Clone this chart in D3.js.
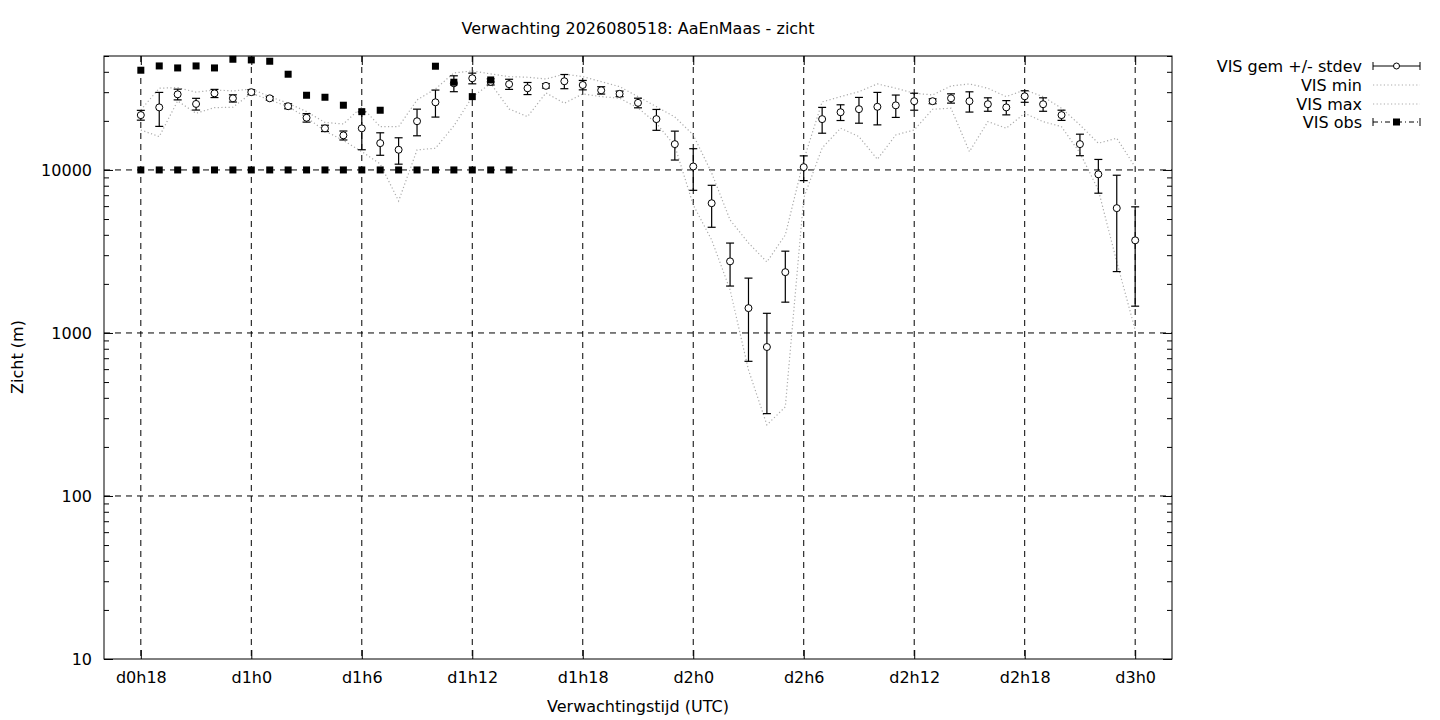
<!DOCTYPE html>
<html>
<head>
<meta charset="utf-8">
<script src="https://cdn.jsdelivr.net/npm/d3@7"></script>
<style>
  html, body { margin: 0; padding: 0; background: #fff; }
  svg { display: block; }
  text { font-family: "DejaVu Sans", sans-serif; font-size: 16px; fill: #000; }
</style>
</head>
<body>
<svg id="chart" width="1440" height="720"></svg>
<script>
// ---- data ----
const title = "Verwachting 2026080518: AaEnMaas - zicht";
const xLabel = "Verwachtingstijd (UTC)";
const yLabel = "Zicht (m)";

// forecast hours (relative to d0h0)
const hours = d3.range(18, 73);

const meanVis = [21700, 24200, 29100, 25400, 29500, 27500, 30000, 27500, 24600, 20900,
  18000, 16300, 18000, 14600, 13300, 19900, 26000, 34000, 36500, 34700,
  33600, 31700, 32800, 35000, 33200, 30800, 29300, 25800, 20500, 14400,
  10500, 6250, 2750, 1420, 820, 2360, 10400, 20500, 22600, 23600,
  24400, 24900, 26400, 26400, 27500, 26400, 25300, 24200, 28300, 25300,
  21700, 14400, 9400, 5830, 3700];

const stdevVis = [1500, 5700, 2200, 2100, 1700, 1400, 1050, 700, 870, 1250,
  800, 1030, 4700, 2300, 2450, 3700, 4900, 3800, 2750, 1500,
  2400, 2700, 1000, 3500, 2200, 1600, 1150, 1750, 3000, 2900,
  3000, 1800, 810, 750, 500, 815, 1800, 3700, 2500, 4250,
  5500, 3900, 3150, 900, 1800, 3750, 2400, 2430, 2300, 2400,
  1560, 2170, 2200, 3450, 2240];

const minVis = [17590, 16010, 26510, 22280, 24110, 24250, 29550, 26880, 24450, 20990,
  17350, 15170, 12950, 10880, 6450, 13270, 13590, 18620, 28040, 33930,
  23670, 21230, 29680, 25660, 29260, 28170, 27540, 24010, 19340, 14040,
  6100, 3720, 1840, 593, 273, 352, 6730, 13640, 18030, 16010,
  11630, 16400, 17590, 23570, 23910, 12950, 19790, 18030, 22280, 19790,
  18430, 12710, 7540, 2730, 1043];

const maxVis = [23340, 31720, 31990, 29980, 30960, 30520, 31400, 28170, 25660, 22790,
  19560, 19150, 24350, 18430, 18430, 26880, 31400, 39370, 40500, 38820,
  37360, 37040, 36160, 38660, 37360, 34810, 32430, 28170, 24450, 21140,
  16400, 9585, 4935, 3566, 2727, 3993, 11520, 26140, 28170, 30220,
  33700, 31720, 29550, 28850, 32760, 33700, 31720, 28170, 30960, 28170,
  23910, 18890, 14580, 15650, 10430];

// observations (hours 18..38); null = no value
const obsHours = d3.range(18, 39);
const obsVis = [40900, 43450, 42240, 43450, 42240, 47760, 47300, 46430, 38650, 28720,
  27920, 24950, 22780, 23240, null, null, 43280, 34520, 28170, 35650, null];
const obsFloor = [10000, 10000, 10000, 10000, 10000, 10000, 10000, 10000, 10000, 10000,
  10000, 10000, 10000, 10000, 10000, 10000, 10000, 10000, 10000, 10000, 10000];

const xTickHours = [18, 24, 30, 36, 42, 48, 54, 60, 66, 72];
const xTickLabels = ["d0h18", "d1h0", "d1h6", "d1h12", "d1h18", "d2h0", "d2h6", "d2h12", "d2h18", "d3h0"];
const yTicks = [10, 100, 1000, 10000];

const legendLabels = ["VIS gem +/- stdev", "VIS min", "VIS max", "VIS obs"];

// ---- chart ----
const svg = d3.select("#chart");
const L = 104, R = 1172, T = 56, B = 659;

const x = d3.scaleLinear().domain([16, 74]).range([L, R]);
const y = d3.scaleLog().domain([10, 50000]).range([B, T]);

const g = svg.append("g");

// grid
const dash = "6,5";
g.selectAll(".vgrid").data(xTickHours).join("line")
  .attr("x1", d => x(d)).attr("x2", d => x(d))
  .attr("y1", T).attr("y2", B)
  .attr("stroke", "#000").attr("stroke-width", 1).attr("stroke-dasharray", dash);
g.selectAll(".hgrid").data(yTicks.filter(d => d > 10)).join("line")
  .attr("x1", L).attr("x2", R)
  .attr("y1", d => y(d)).attr("y2", d => y(d))
  .attr("stroke", "#000").attr("stroke-width", 1).attr("stroke-dasharray", dash);

// axes via d3 (ticks inward)
const minorTicks = [];
[10, 100, 1000, 10000].forEach(dec => {
  for (let k = 2; k <= 9; k++) { if (dec * k <= 50000) minorTicks.push(dec * k); }
});

const yAxisL = d3.axisLeft(y).tickValues(yTicks).tickFormat(d3.format("d")).tickSize(-9).tickPadding(12);
const yAxisLMinor = d3.axisLeft(y).tickValues(minorTicks).tickFormat("").tickSize(-5);
const yAxisR = d3.axisRight(y).tickValues(yTicks).tickFormat("").tickSize(-9);
const yAxisRMinor = d3.axisRight(y).tickValues(minorTicks).tickFormat("").tickSize(-5);
const xAxisB = d3.axisBottom(x).tickValues(xTickHours).tickFormat((d, i) => xTickLabels[i]).tickSize(-9).tickPadding(13);
const xAxisT = d3.axisTop(x).tickValues(xTickHours).tickFormat("").tickSize(-9);

function styleAxis(sel) {
  sel.select(".domain").remove();
  sel.selectAll("line").attr("stroke", "#000");
  sel.selectAll("text").style("font-family", "DejaVu Sans, sans-serif").style("font-size", "16px").attr("fill", "#000");
}
g.append("g").attr("transform", `translate(${L},0)`).call(yAxisL).call(styleAxis);
g.append("g").attr("transform", `translate(${L},0)`).call(yAxisLMinor).call(styleAxis);
g.append("g").attr("transform", `translate(${R},0)`).call(yAxisR).call(styleAxis);
g.append("g").attr("transform", `translate(${R},0)`).call(yAxisRMinor).call(styleAxis);
g.append("g").attr("transform", `translate(0,${B})`).call(xAxisB).call(styleAxis);
g.append("g").attr("transform", `translate(0,${T})`).call(xAxisT).call(styleAxis);

// border
g.append("rect").attr("x", L).attr("y", T).attr("width", R - L).attr("height", B - T)
  .attr("fill", "none").attr("stroke", "#000").attr("stroke-width", 1);

// min / max dotted lines
const lineGen = arr => d3.line().x((d, i) => x(hours[i])).y(d => y(d))(arr);
const dotStyle = { stroke: "#ababab", width: 1.2, dash: "1.2,2.4" };
[minVis, maxVis].forEach(arr => {
  g.append("path").attr("d", lineGen(arr))
    .attr("fill", "none").attr("stroke", dotStyle.stroke)
    .attr("stroke-width", dotStyle.width).attr("stroke-dasharray", dotStyle.dash);
});

// error bars + mean circles
const pts = hours.map((h, i) => ({ h, m: meanVis[i], lo: meanVis[i] - stdevVis[i], hi: meanVis[i] + stdevVis[i] }));
const cap = 4;
const eb = g.selectAll(".eb").data(pts).join("g");
eb.append("line").attr("x1", d => x(d.h)).attr("x2", d => x(d.h))
  .attr("y1", d => y(d.lo)).attr("y2", d => y(d.hi)).attr("stroke", "#000").attr("stroke-width", 1.2);
eb.append("line").attr("x1", d => x(d.h) - cap).attr("x2", d => x(d.h) + cap)
  .attr("y1", d => y(d.lo)).attr("y2", d => y(d.lo)).attr("stroke", "#000").attr("stroke-width", 1.2);
eb.append("line").attr("x1", d => x(d.h) - cap).attr("x2", d => x(d.h) + cap)
  .attr("y1", d => y(d.hi)).attr("y2", d => y(d.hi)).attr("stroke", "#000").attr("stroke-width", 1.2);
eb.append("circle").attr("cx", d => x(d.h)).attr("cy", d => y(d.m)).attr("r", 3.5)
  .attr("fill", "#fff").attr("stroke", "#000").attr("stroke-width", 1);

// observations (drawn on top)
const sq = 7;
const obsPts = obsHours.map((h, i) => ({ h, v: obsVis[i] })).filter(d => d.v != null);
g.selectAll(".obs").data(obsPts).join("rect")
  .attr("x", d => x(d.h) - sq / 2).attr("y", d => y(d.v) - sq / 2)
  .attr("width", sq).attr("height", sq).attr("fill", "#000");
const floorPts = obsHours.map((h, i) => ({ h, v: obsFloor[i] }));
g.selectAll(".obsf").data(floorPts).join("rect")
  .attr("x", d => x(d.h) - sq / 2).attr("y", d => y(d.v) - sq / 2)
  .attr("width", sq).attr("height", sq).attr("fill", "#000");

// titles
svg.append("text").attr("x", 638).attr("y", 34).attr("text-anchor", "middle").text(title);
svg.append("text").attr("x", 638).attr("y", 712).attr("text-anchor", "middle").text(xLabel);
svg.append("text").attr("transform", "translate(23,357) rotate(-90)").attr("text-anchor", "middle").text(yLabel);

// legend
const lg = svg.append("g");
const lx0 = 1373, lx1 = 1420, ltx = 1362;
const ly = [66, 85, 104, 122];
legendLabels.forEach((lab, i) => {
  lg.append("text").attr("x", ltx).attr("y", ly[i] + 6).attr("text-anchor", "end").text(lab);
});
// entry 1: errorbar style
lg.append("line").attr("x1", lx0).attr("x2", lx1).attr("y1", ly[0]).attr("y2", ly[0]).attr("stroke", "#000");
[lx0, lx1].forEach(xx => lg.append("line").attr("x1", xx).attr("x2", xx).attr("y1", ly[0] - 4).attr("y2", ly[0] + 4).attr("stroke", "#000"));
lg.append("circle").attr("cx", (lx0 + lx1) / 2).attr("cy", ly[0]).attr("r", 3).attr("fill", "#fff").attr("stroke", "#000");
// entries 2,3: dotted
[1, 2].forEach(i => lg.append("line").attr("x1", lx0).attr("x2", lx1).attr("y1", ly[i]).attr("y2", ly[i])
  .attr("stroke", dotStyle.stroke).attr("stroke-width", dotStyle.width).attr("stroke-dasharray", dotStyle.dash));
// entry 4: dash-dot with square
lg.append("line").attr("x1", lx0).attr("x2", lx1).attr("y1", ly[3]).attr("y2", ly[3])
  .attr("stroke", "#000").attr("stroke-dasharray", "5,3,1,3");
[lx0, lx1].forEach(xx => lg.append("line").attr("x1", xx).attr("x2", xx).attr("y1", ly[3] - 4).attr("y2", ly[3] + 4).attr("stroke", "#000"));
lg.append("rect").attr("x", (lx0 + lx1) / 2 - 3.5).attr("y", ly[3] - 3.5).attr("width", 7).attr("height", 7).attr("fill", "#000");
</script>
</body>
</html>
